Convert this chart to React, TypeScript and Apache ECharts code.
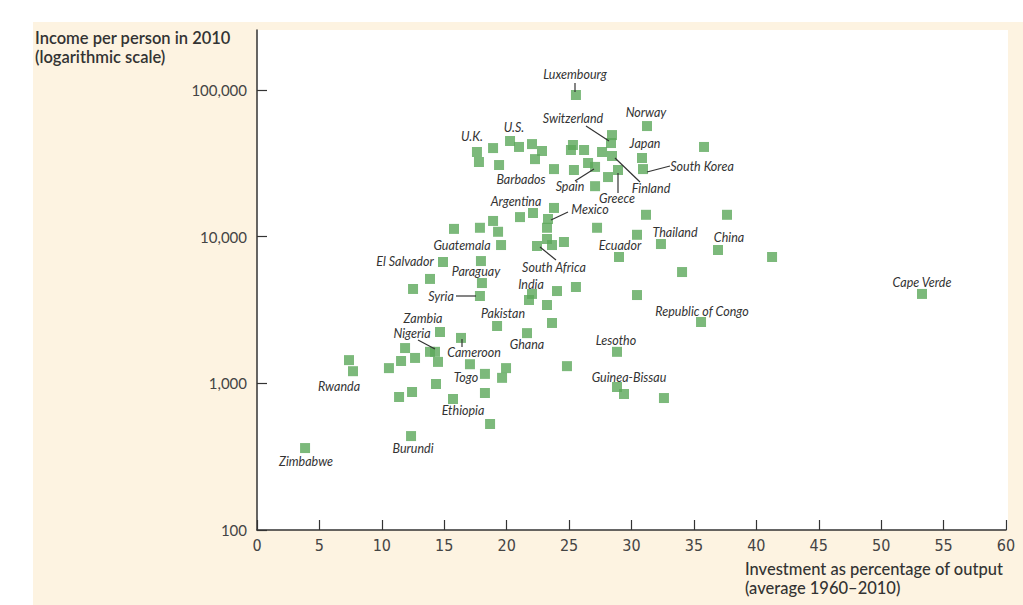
import React, { useEffect, useRef } from "react";
import * as echarts from "echarts";

// Investment as % of output (x) and income per person in 2010 (y)
const investment = [
  25.55, 31.24, 28.44, 28.36, 35.81, 25.31, 25.15, 26.2, 27.64, 28.44,
  30.84, 30.92, 23.79, 25.39, 26.52, 27.08, 28.92, 28.12, 27.08, 17.62,
  17.78, 18.91, 20.27, 20.99, 22.03, 22.83, 22.27, 19.39, 23.79, 22.11,
  21.07, 23.31, 23.23, 18.91, 15.78, 17.86, 19.31, 27.24, 31.16, 37.65,
  30.44, 23.23, 23.63, 22.43, 24.59, 19.55, 32.36, 36.93, 29.0, 41.26,
  14.9, 17.94, 34.05, 13.86, 18.02, 12.5, 17.86, 22.03, 21.79, 24.03,
  25.55, 30.44, 53.27, 23.23, 19.23, 21.63, 23.63, 35.57, 14.66, 16.34,
  11.86, 13.86, 14.26, 14.5, 11.54, 12.66, 10.57, 7.37, 7.69, 17.06,
  18.26, 19.95, 19.63, 24.83, 28.84, 14.34, 12.42, 11.38, 15.7, 18.26,
  18.67, 12.34, 3.85, 28.84, 29.4, 32.6,
];
const income = [
  92500, 56800, 49300, 43500, 40900, 42200, 39000, 39000, 37800, 35500,
  34400, 28900, 28900, 28500, 31800, 29900, 28500, 25500, 22100, 37800,
  32300, 40200, 44900, 40900, 42800, 38400, 33800, 30800, 15700, 14500,
  13600, 13200, 11500, 12800, 11300, 11500, 10800, 11500, 14100, 14100,
  10300, 9640, 8770, 8640, 9200, 8770, 8910, 8110, 7270, 7270,
  6720, 6820, 5740, 5150, 4830, 4400, 3940, 4070, 3700, 4260,
  4540, 4000, 4070, 3420, 2460, 2200, 2580, 2620, 2240, 2040,
  1740, 1640, 1640, 1400, 1420, 1490, 1270, 1440, 1210, 1350,
  1160, 1270, 1090, 1310, 1640, 990, 873, 807, 782, 859,
  528, 437, 362, 944, 846, 794,
];

const yTickValues = [100, 1000, 10000, 100000];
const xMin = 0;
const xMax = 60;
const xStep = 5;

// Country annotations: name, text centre (px)
const labelNames = [
  "Luxembourg", "Norway", "Switzerland", "Japan", "South Korea", "U.K.", "U.S.",
  "Barbados", "Spain", "Finland", "Greece", "Argentina", "Mexico", "Guatemala",
  "South Africa", "Thailand", "China", "Ecuador", "El Salvador", "Paraguay",
  "India", "Syria", "Pakistan", "Zambia", "Nigeria", "Cameroon", "Ghana",
  "Lesotho", "Republic of Congo", "Cape Verde", "Rwanda", "Togo",
  "Guinea-Bissau", "Ethiopia", "Burundi", "Zimbabwe",
];
const labelX = [
  575, 646, 573, 645, 702, 472, 514, 521, 570, 651, 617, 516, 590, 462,
  554, 675, 729, 620, 405, 476, 531, 441, 503, 423, 412, 474, 527,
  616, 702, 922, 339, 466, 629, 463, 413, 306,
];
const labelY = [
  74, 112, 118, 143, 166, 136, 127, 179, 186, 188, 198, 201, 209, 245,
  267, 232, 237, 245, 261, 271, 284, 296, 313, 318, 333, 352, 344,
  340, 311, 282, 386, 377, 377, 410, 448, 461,
];
// Leader lines [x1, y1, x2, y2] in px
const leaders = [
  [575, 83, 575, 92],
  [586, 126, 609, 141],
  [670, 166, 647, 172],
  [575, 181, 594, 169],
  [640, 182, 615, 158],
  [618, 173, 618, 193],
  [568, 212, 551, 220],
  [556, 260, 540, 247],
  [456, 296, 476, 296],
  [418, 340, 435, 349],
  [462, 339, 462, 347],
];

const yTitle = ["Income per person in 2010", "(logarithmic scale)"];
const xTitle = ["Investment as percentage of output", "(average 1960–2010)"];

const GRID_L = 257;
const GRID_T = 30;
const GRID_W = 749;
const GRID_H = 500;
const CREAM = "#FDF3E1";
const INK = "#333333";
const GREEN = "#5BA85A";

export default function App() {
  const ref = useRef<HTMLDivElement>(null);

  useEffect(() => {
    document.body.style.margin = "0";
    if (!ref.current) return;
    const chart = echarts.init(ref.current, undefined, { renderer: "svg" });

    const graphics: any[] = [
      {
        type: "rect",
        z: -10,
        silent: true,
        shape: { x: 33, y: 22, width: 1023 - 33, height: 605 - 22 },
        style: { fill: CREAM },
      },
      {
        type: "rect",
        z: -9,
        silent: true,
        shape: { x: GRID_L, y: GRID_T, width: 1008 - GRID_L, height: GRID_H },
        style: { fill: "#ffffff" },
      },
    ];

    yTitle.forEach((t, i) => {
      graphics.push({
        type: "text",
        x: 35,
        y: 38 + i * 18.5,
        style: {
          text: t,
          fontFamily: "Lato, 'Open Sans', sans-serif",
          fontSize: 16.5,
          fontWeight: 600,
          fill: INK,
          verticalAlign: "middle",
        },
      });
    });
    xTitle.forEach((t, i) => {
      graphics.push({
        type: "text",
        x: 745,
        y: 569 + i * 19,
        style: {
          text: t,
          fontFamily: "Lato, 'Open Sans', sans-serif",
          fontSize: 16.5,
          fontWeight: 500,
          fill: INK,
          verticalAlign: "middle",
        },
      });
    });

    labelNames.forEach((name, i) => {
      graphics.push({
        type: "text",
        x: labelX[i],
        y: labelY[i],
        z: 10,
        silent: true,
        style: {
          text: name,
          fontFamily: "Lato, 'Open Sans', sans-serif",
          fontStyle: "italic",
          fontSize: 12.5,
          fill: INK,
          align: "center",
          verticalAlign: "middle",
        },
      });
    });
    leaders.forEach((l) => {
      graphics.push({
        type: "line",
        z: 10,
        silent: true,
        shape: { x1: l[0], y1: l[1], x2: l[2], y2: l[3] },
        style: { stroke: INK, lineWidth: 1.2 },
      });
    });

    const data = investment.map((x, i) => [x, income[i]]);

    chart.setOption({
      animation: false,
      backgroundColor: "#ffffff",
      grid: { left: GRID_L, top: GRID_T, width: GRID_W, height: GRID_H, containLabel: false },
      xAxis: {
        type: "value",
        min: xMin,
        max: xMax,
        interval: xStep,
        axisLine: { show: true, lineStyle: { color: INK, width: 1.5 } },
        axisTick: { show: true, inside: true, length: 10, lineStyle: { color: INK, width: 1.2 } },
        axisLabel: {
          color: "#444",
          fontSize: 16,
          margin: 7,
          fontFamily: "'Liberation Sans Narrow', 'DejaVu Sans Condensed', Lato, sans-serif",
        },
        splitLine: { show: false },
      },
      yAxis: {
        type: "log",
        logBase: 10,
        min: 100,
        max: 256600,
        axisLine: { show: true, lineStyle: { color: INK, width: 1.5 } },
        axisTick: {
          show: true,
          inside: true,
          length: 10,
          customValues: yTickValues,
          lineStyle: { color: INK, width: 1.2 },
        },
        axisLabel: {
          customValues: yTickValues,
          color: "#444",
          fontSize: 15,
          margin: 10,
          fontFamily: "Lato, 'Open Sans', sans-serif",
          formatter: (v: number) => Math.round(v).toLocaleString("en-US"),
        },
        splitLine: { show: false },
      },
      graphic: graphics,
      series: [
        {
          type: "scatter",
          symbol: "rect",
          symbolSize: 10,
          itemStyle: { color: GREEN },
          data,
        },
      ],
    });

    return () => chart.dispose();
  }, []);

  return <div ref={ref} style={{ width: 1023, height: 605 }} />;
}
